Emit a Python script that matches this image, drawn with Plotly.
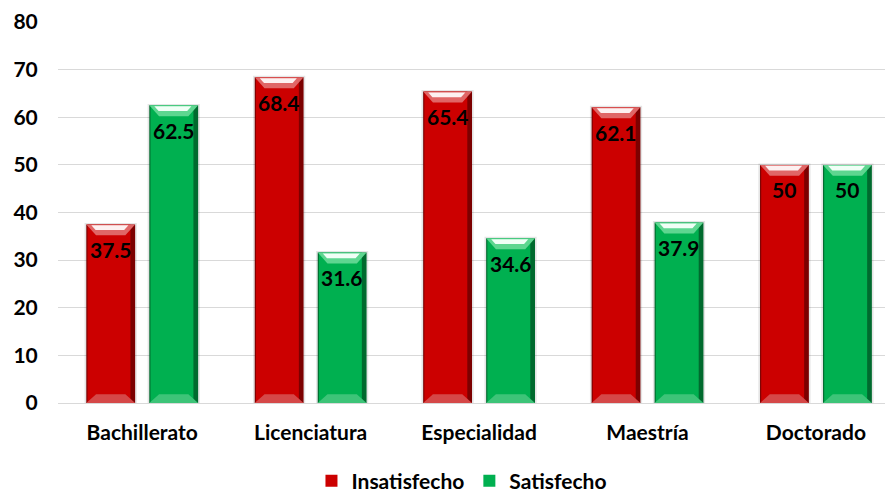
import plotly.graph_objects as go

categorias = ["Bachillerato", "Licenciatura", "Especialidad", "Maestría", "Doctorado"]
insatisfecho = [37.5, 68.4, 65.4, 62.1, 50]
satisfecho = [62.5, 31.6, 34.6, 37.9, 50]
y_ticks = [0, 10, 20, 30, 40, 50, 60, 70, 80]

FONT = "Lato"
FS = 21
BAR_W = 0.29
BEV_X = 0.058   # bevel inset, category units
BEV_Y = 2.3     # bevel depth, value units

series = [
    # name, values, left offset, dark edge, main, light bevel, highlight, bottom bevel
    ("Insatisfecho", insatisfecho, -0.332, "#7C0000", "#CC0000", "#E06666", "#FDF0F0", "#D54848"),
    ("Satisfecho", satisfecho, 0.042, "#006A2E", "#00B050", "#5ED690", "#F0FFF6", "#3DC478"),
]

x_idx = list(range(len(categorias)))
fig = go.Figure()
shapes = []
annotations = []

for name, vals, off, dark, main, light, hi, bot in series:
    # soft shadow
    fig.add_bar(x=x_idx, y=[v + 0.3 for v in vals], width=BAR_W + 0.02, offset=off - 0.01,
                marker=dict(color="rgba(0,0,0,0.10)", line=dict(width=0)),
                showlegend=False, hoverinfo="skip")
    # dark edge body
    fig.add_bar(x=x_idx, y=vals, width=BAR_W, offset=off,
                marker=dict(color=dark, line=dict(width=0)),
                showlegend=False, hoverinfo="skip")
    # main face
    fig.add_bar(x=x_idx, y=vals, width=BAR_W - 0.035, offset=off + 0.007,
                marker=dict(color=main, line=dict(width=0)),
                name=name, hoverinfo="x+y")
    for i, v in enumerate(vals):
        x0 = i + off
        x1 = x0 + BAR_W
        # top bevel
        shapes.append(dict(type="path", xref="x", yref="y", layer="above",
                           path=f"M{x0},{v} L{x1},{v} L{x1 - BEV_X},{v - BEV_Y} L{x0 + BEV_X},{v - BEV_Y} Z",
                           fillcolor=light, line=dict(width=0)))
        shapes.append(dict(type="path", xref="x", yref="y", layer="above",
                           path=f"M{x0 + 0.03},{v - 0.2} L{x1 - 0.04},{v - 0.2} L{x1 - 0.065},{v - 1.2} L{x0 + 0.055},{v - 1.2} Z",
                           fillcolor=hi, line=dict(width=0)))
        # bottom bevel
        shapes.append(dict(type="path", xref="x", yref="y", layer="above",
                           path=f"M{x0},0 L{x1},0 L{x1 - BEV_X},{BEV_Y * 0.8} L{x0 + BEV_X},{BEV_Y * 0.8} Z",
                           fillcolor=bot, line=dict(width=0)))
        annotations.append(dict(x=x0 + BAR_W / 2, y=v, xref="x", yref="y",
                                text=f"{v:g}", showarrow=False, yshift=-25,
                                font=dict(family=FONT, size=FS, color="black", weight="bold")))

fig.update_layout(
    width=885, height=495,
    margin=dict(l=58, r=0, t=22, b=92, autoexpand=False),
    paper_bgcolor="white", plot_bgcolor="white",
    barmode="overlay",
    shapes=shapes,
    annotations=annotations,
    font=dict(family=FONT, size=FS, color="black"),
    legend=dict(orientation="h", xref="container", yref="paper",
                x=0.522, xanchor="center", y=-0.205, yanchor="middle",
                font=dict(family=FONT, size=FS, color="black", weight="bold"),
                itemwidth=30, traceorder="normal"),
    xaxis=dict(range=[-0.5, 4.41], tickmode="array", tickvals=x_idx, ticktext=categorias,
               tickangle=0, automargin=False,
               showgrid=False, showline=True, linecolor="#D9D9D9", linewidth=1,
               ticks="outside", ticklen=11, tickcolor="rgba(0,0,0,0)",
               tickfont=dict(family=FONT, size=FS, color="black", weight="bold")),
    yaxis=dict(range=[0, 80], tickvals=y_ticks, showgrid=True, gridcolor="#D9D9D9",
               gridwidth=1, zeroline=False, showline=False, automargin=False,
               ticks="outside", ticklen=15, tickcolor="rgba(0,0,0,0)",
               tickfont=dict(family=FONT, size=FS, color="black", weight="bold")),
)

fig.write_html("out.html")
